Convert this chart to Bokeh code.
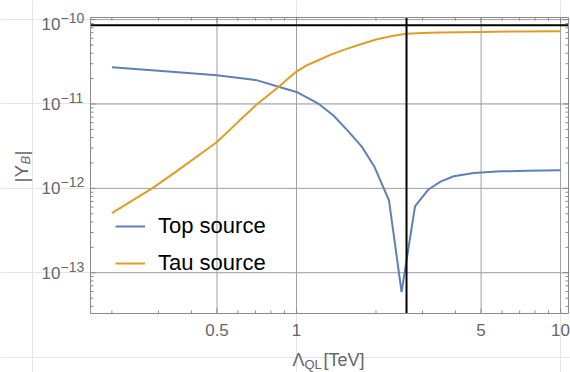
import math
from bokeh.plotting import figure
from bokeh.models import Label, Legend, LegendItem, Range1d
from bokeh.embed import file_html
from bokeh.resources import INLINE

# ---- data ----
top_x = [0.2, 0.3, 0.5, 0.7, 0.855, 1.0, 1.215, 1.38, 1.556, 1.77, 1.97,
         2.24, 2.50, 2.81, 3.16, 3.51, 3.94, 4.69, 5.93, 7.5, 10.0]
top_y = [2.72e-11, 2.48e-11, 2.19e-11, 1.93e-11, 1.60e-11, 1.39e-11, 1.0e-11,
         7.3e-12, 4.9e-12, 3.1e-12, 1.82e-12, 7.2e-13, 5.9e-14, 6.1e-13,
         9.7e-13, 1.2e-12, 1.39e-12, 1.52e-12, 1.59e-12, 1.62e-12, 1.64e-12]

tau_x = [0.2, 0.25, 0.284, 0.35, 0.5, 0.6, 0.71, 0.855, 0.93, 1.0, 1.1, 1.21,
         1.35, 1.5, 1.75, 2.0, 2.3, 2.6, 3.0, 3.5, 5.0, 7.0, 10.0]
tau_y = [5.1e-13, 7.8e-13, 1.0e-12, 1.58e-12, 3.55e-12, 6.1e-12, 1.0e-11,
         1.59e-11, 2.0e-11, 2.42e-11, 2.9e-11, 3.3e-11, 3.85e-11, 4.35e-11,
         5.1e-11, 5.8e-11, 6.4e-11, 6.8e-11, 6.95e-11, 7.05e-11, 7.15e-11,
         7.25e-11, 7.3e-11]

h_line = 8.55e-11
v_line = 2.61

x_major = [0.5, 1, 5, 10]
x_major_labels = ["0.5", "1", "5", "10"]
x_minor = [0.2, 0.3, 0.4, 0.6, 0.7, 0.8, 0.9, 2, 3, 4, 6, 7, 8, 9]
y_major = [1e-13, 1e-12, 1e-11, 1e-10]
y_exps = [-13, -12, -11, -10]
y_minor = [k * 10.0 ** e for e in range(-14, -10) for k in range(2, 10)]

series_names = ["Top source", "Tau source"]
colors = ["#5E81B5", "#E19C24"]

# inner plotting box (log10 limits) and where it sits on the canvas (px)
lx_min, lx_max = -0.780, 1.030
ly_min, ly_max = -13.483, -9.975
W, H = 570, 372
FL, FR, FT, FB = 90, 568, 17, 313

kx = (lx_max - lx_min) / (FR - FL)
ky = (ly_max - ly_min) / (FB - FT)


def X(px):
    return 10 ** (lx_min + (px - FL) * kx)


def Y(py):
    return 10 ** (ly_max - (py - FT) * ky)


def xpix(v):
    return FL + (math.log10(v) - lx_min) / kx


def ypix(v):
    return FT + (ly_max - math.log10(v)) / ky


x_min, x_max = X(FL), X(FR)
y_min, y_max = Y(FB), Y(FT)

FONT = "Liberation Sans"
GRAY = "#666666"
FRAME = "#8a8a8a"
GRID = "#a0a0a0"

p = figure(width=W, height=H, x_axis_type="log", y_axis_type="log",
           x_axis_location=None, y_axis_location=None,
           x_range=Range1d(X(0), X(W)), y_range=Range1d(Y(H), Y(0)),
           output_backend="svg", toolbar_location=None,
           min_border=0)
p.outline_line_color = None
p.background_fill_color = "white"
p.border_fill_color = "white"

# grid lines
p.segment(x0=x_major, x1=x_major, y0=[y_min] * len(x_major), y1=[y_max] * len(x_major),
          line_color=GRID, line_width=1)
p.segment(x0=[x_min] * len(y_major), x1=[x_max] * len(y_major), y0=y_major, y1=y_major,
          line_color=GRID, line_width=1)


# ticks (inward, on all four sides)
def x_ticks(vals, length):
    vals = [v for v in vals if x_min <= v <= x_max]
    n = len(vals)
    p.segment(x0=vals, x1=vals, y0=[y_min] * n, y1=[Y(FB - length)] * n,
              line_color=FRAME, line_width=1)
    p.segment(x0=vals, x1=vals, y0=[y_max] * n, y1=[Y(FT + length)] * n,
              line_color=FRAME, line_width=1)


def y_ticks(vals, length):
    vals = [v for v in vals if y_min <= v <= y_max]
    n = len(vals)
    p.segment(x0=[x_min] * n, x1=[X(FL + length)] * n, y0=vals, y1=vals,
              line_color=FRAME, line_width=1)
    p.segment(x0=[x_max] * n, x1=[X(FR - length)] * n, y0=vals, y1=vals,
              line_color=FRAME, line_width=1)


x_ticks(x_major, 5)
x_ticks(x_minor, 3)
y_ticks(y_major, 5)
y_ticks(y_minor, 3)

# data curves
r_top = p.line(top_x, top_y, line_color=colors[0], line_width=2)
r_tau = p.line(tau_x, tau_y, line_color=colors[1], line_width=2)

# reference lines
p.segment(x0=[x_min], x1=[x_max], y0=[h_line], y1=[h_line], line_color="black", line_width=2)
p.segment(x0=[v_line], x1=[v_line], y0=[y_min], y1=[y_max], line_color="black", line_width=2)

# frame
p.quad(left=[x_min], right=[x_max], bottom=[y_min], top=[y_max],
       fill_alpha=0, line_color=FRAME, line_width=1)

legend = Legend(items=[LegendItem(label=series_names[0], renderers=[r_top]),
                       LegendItem(label=series_names[1], renderers=[r_tau])],
                location=(115, 96))
legend.label_text_font = FONT
legend.label_text_font_size = "22px"
legend.label_text_color = "black"
legend.glyph_width = 30
legend.glyph_height = 22
legend.label_height = 22
legend.spacing = 11
legend.padding = 0
legend.margin = 0
legend.label_standoff = 13
legend.border_line_color = None
legend.background_fill_alpha = 0
p.add_layout(legend, "center")


def add_text(px, py, text, size, align="left", angle=0.0, style="normal"):
    p.add_layout(Label(x=X(px), y=Y(py), text=text,
                       text_font=FONT, text_font_size=size, text_color=GRAY,
                       text_font_style=style, text_align=align,
                       text_baseline="middle", angle=angle))


# x tick labels
for v, t in zip(x_major, x_major_labels):
    add_text(xpix(v), 329, t, "17px", align="center")

# y tick labels: 10 with superscript exponent
for v, e in zip(y_major, y_exps):
    yy = ypix(v) + (4 if e == -10 else 0)
    add_text(60, yy, "10", "17px", align="right")
    add_text(60, yy - 6, "\u2212" + str(-e), "14px", align="left")

# x axis label: Λ_QL[TeV]
xl0 = 292
add_text(xl0, 359, "\u039b", "18px")
add_text(xl0 + 12, 364, "QL", "13px")
add_text(xl0 + 31, 359, "[TeV]", "18px")

# y axis label: |Y_B| rotated
ang = math.pi / 2
add_text(21, 182, "|Y", "19px", angle=ang)
add_text(25, 164, "B", "13px", angle=ang, style="italic")
add_text(21, 155, "|", "19px", angle=ang)

open("out.html", "w").write(file_html(p, INLINE))
